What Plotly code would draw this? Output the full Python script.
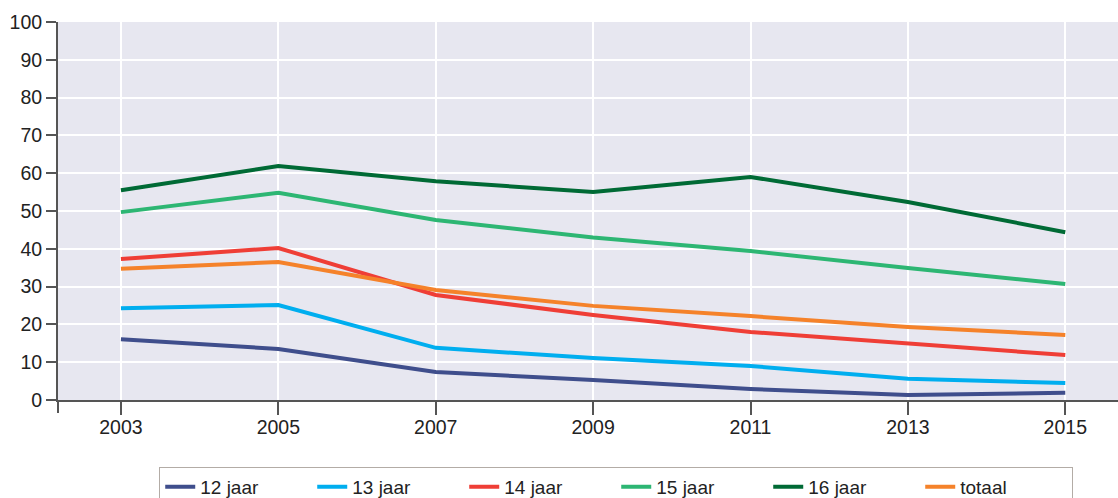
import plotly.graph_objects as go

years = [2003, 2005, 2007, 2009, 2011, 2013, 2015]
jaar12 = [16.1, 13.5, 7.4, 5.3, 2.9, 1.3, 1.9]
jaar13 = [24.3, 25.1, 13.8, 11.1, 9.0, 5.6, 4.5]
jaar14 = [37.3, 40.2, 27.8, 22.5, 18.0, 15.0, 11.9]
jaar15 = [49.7, 54.8, 47.6, 43.0, 39.4, 34.9, 30.7]
jaar16 = [55.5, 61.9, 57.9, 55.0, 59.0, 52.4, 44.4]
totaal = [34.7, 36.5, 29.1, 24.9, 22.2, 19.3, 17.2]

series = [
    ("12 jaar", jaar12, "#3f4e8c"),
    ("13 jaar", jaar13, "#00aeef"),
    ("14 jaar", jaar14, "#ef3e36"),
    ("15 jaar", jaar15, "#2db673"),
    ("16 jaar", jaar16, "#006a35"),
    ("totaal", totaal, "#f5822a"),
]

fig = go.Figure()
for name, vals, color in series:
    fig.add_trace(go.Scatter(x=years, y=vals, name=name, mode="lines",
                             line=dict(color=color, width=4)))

fig.update_layout(
    width=1118, height=498,
    margin=dict(l=58, r=0, t=22, b=98, autoexpand=False),
    paper_bgcolor="white",
    plot_bgcolor="#e7e7f0",
    font=dict(family="Liberation Sans, Arial, sans-serif", size=19.5, color="#222"),
    showlegend=True,
    legend=dict(
        orientation="h",
        x=0.0955, xanchor="left",
        y=-0.177, yanchor="top",
        bordercolor="#b3aca6", borderwidth=1,
        bgcolor="white",
        entrywidth=107,
        font=dict(size=19),
        tracegroupgap=0,
    ),
    xaxis=dict(
        range=[2002.2, 2015.67],
        tickvals=years,
        ticktext=[str(y) for y in years],
        showgrid=True, gridcolor="white", gridwidth=1.5,
        showline=True, linecolor="#555", linewidth=2,
        ticks="outside", ticklen=13, tickcolor="#555", tickwidth=1.5,
        ticklabelstandoff=-4,
        zeroline=False,
    ),
    yaxis=dict(
        range=[0, 100],
        tickvals=list(range(0, 101, 10)),
        showgrid=True, gridcolor="white", gridwidth=1.5,
        showline=True, linecolor="#555", linewidth=2,
        ticks="outside", ticklen=10, tickcolor="#555", tickwidth=1.5,
        zeroline=False,
    ),
)

fig.add_shape(type="line", xref="paper", yref="paper",
              x0=0, x1=0, y0=0, y1=-13 / 378,
              line=dict(color="#555", width=2))

fig.write_html(
    "out.html",
    config={"displayModeBar": False},
    post_script="document.body.style.margin='0';document.body.style.overflow='hidden';",
)
